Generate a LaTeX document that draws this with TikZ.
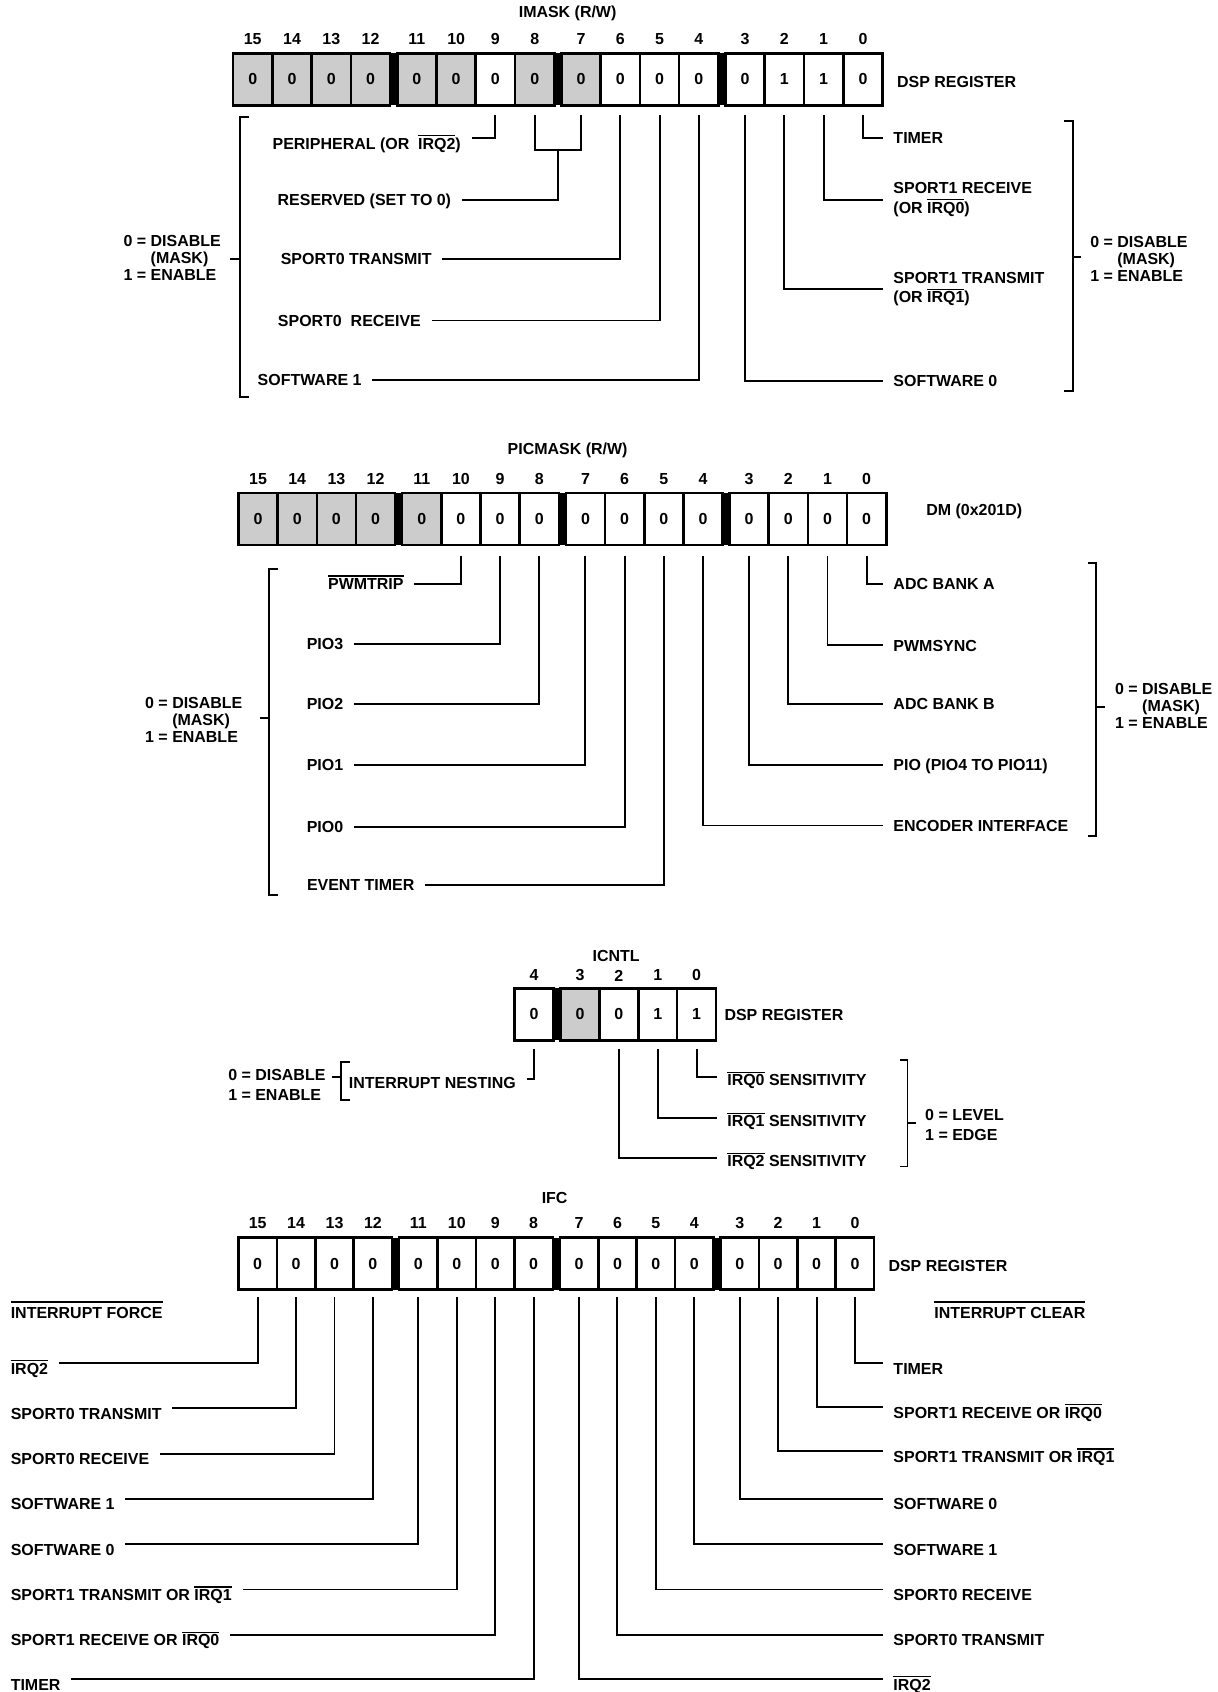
\documentclass[tikz,border=0pt]{standalone}
\usepackage{fontspec}
\setmainfont{Liberation Sans}
\usetikzlibrary{calc}
\definecolor{cellgray}{gray}{0.8}
\newcommand{\ovl}[2][0.8pt]{\leavevmode\setbox0=\hbox{#2}\rlap{\rule[\dimexpr\ht0+#1\relax]{\wd0}{0.6pt}}\box0\relax}

\begin{document}
\begin{tikzpicture}[x=0.5pt, y=-0.5pt,
  every node/.style={font=\bfseries\fontsize{7.4}{9}\selectfont},
  cell/.style={draw, line width=1.2pt, minimum width=#1, minimum height=24pt, inner sep=0pt},
  bitno/.style={inner sep=0pt},
  lbl/.style={inner sep=0pt, outer xsep=5pt, text height=#1, text depth=0pt},
  lbl/.default=5.3pt,
  lbltwo/.style={inner sep=0pt, outer xsep=5pt, align=left},
  note/.style={inner sep=0pt, align=left, font=\bfseries\fontsize{7.4}{8}\selectfont},
  wire/.style={line width=0.9pt},
  brk/.style={line width=0.9pt}]
\useasboundingbox (0,0) rectangle (1128,1568);

\node (imTitle) at (526,12) {IMASK (R/W)};
\foreach \bit/\val/\fc in {15/0/cellgray,14/0/cellgray,13/0/cellgray,12/0/cellgray,11/0/cellgray,10/0/cellgray,9/0/white,8/0/cellgray,7/0/cellgray,6/0/white,5/0/white,4/0/white,3/0/white,2/1/white,1/1/white,0/0/white}{
  \pgfmathsetmacro\cx{216+int((15-\bit)/4)*(4*36.4+6.5)+mod(15-\bit,4)*36.4+18.2}
  \node[cell=18.2pt, fill=\fc] (im\bit) at (\cx,73.5) {\val};
  \node[bitno] (imn\bit) at (\cx,36) {\bit};
  \coordinate (imt\bit) at (\cx,107);
}
\foreach \g in {0,1,2} \fill ({216+\g*(4*36.4+6.5)+4*36.4},49.5) rectangle +(6.5,48);
\node[bitno, anchor=west] (imReg) at (831,76) {DSP REGISTER};

\node[lbl=10.3pt, anchor=east] (imPer) at (437,128) {PERIPHERAL (OR\ \ \ovl{IRQ2})};
\node[lbl, anchor=east] (imRes) at (428,185) {RESERVED (SET TO 0)};
\node[lbl, anchor=east] (imS0T) at (410,240) {SPORT0 TRANSMIT};
\node[lbl, anchor=east] (imS0R) at (400,297) {SPORT0\ \ RECEIVE};
\node[lbl, anchor=east] (imSw1) at (345,352) {SOFTWARE 1};
\node[lbl, anchor=west] (imTim) at (818,128) {TIMER};
\node[lbltwo, anchor=west] (imS1R) at (818,185) {SPORT1 RECEIVE\\(OR \ovl{IRQ0})};
\node[lbltwo, anchor=west] (imS1T) at (818,268) {SPORT1 TRANSMIT\\(OR \ovl{IRQ1})};
\node[lbl, anchor=west] (imSw0) at (818,353) {SOFTWARE 0};

\draw[wire] (imt9) |- (imPer);
\coordinate (imj) at ($(imt8)!.5!(imt7)+(0,32)$);
\draw[wire] (imt8) |- (imj) -| (imt7);
\draw[wire] (imj) |- (imRes);
\foreach \bit/\n in {6/imS0T,5/imS0R,4/imSw1,3/imSw0,2/imS1T,1/imS1R,0/imTim}
  \draw[wire] (imt\bit) |- (\n);

\draw[brk] (231,108) -- (222,108) -- (222,368) -- (231,368);
\draw[brk] (222,240) -- (213,240);
\node[note, anchor=east] (imLnote) at (205,239) {0 = DISABLE\\\phantom{0 = }(MASK)\\1 = ENABLE};
\draw[brk] (986,112) -- (994,112) -- (994,362) -- (986,362);
\draw[brk] (994,238) -- (1002,238);
\node[note, anchor=west] (imRnote) at (1010,240) {0 = DISABLE\\\phantom{0 = }(MASK)\\1 = ENABLE};

\node (pmTitle) at (526,417) {PICMASK (R/W)};
\foreach \bit/\fc in {15/cellgray,14/cellgray,13/cellgray,12/cellgray,11/cellgray,10/white,9/white,8/white,7/white,6/white,5/white,4/white,3/white,2/white,1/white,0/white}{
  \pgfmathsetmacro\cx{221+int((15-\bit)/4)*(4*36.3+6.5)+mod(15-\bit,4)*36.3+18.15}
  \node[cell=18.15pt, fill=\fc] (pm\bit) at (\cx,481) {0};
  \node[bitno] (pmn\bit) at (\cx,444) {\bit};
  \coordinate (pmt\bit) at (\cx,515);
}
\foreach \g in {0,1,2} \fill ({221+\g*(4*36.3+6.5)+4*36.3},457) rectangle +(6.5,48);
\node[bitno, anchor=west] (pmReg) at (858,474) {DM (0x201D)};

\node[lbl, anchor=east] (pmTrip) at (384,541) {\ovl{PWMTRIP}};
\node[lbl, anchor=east] (pmP3) at (328,597) {PIO3};
\node[lbl, anchor=east] (pmP2) at (328,652) {PIO2};
\node[lbl, anchor=east] (pmP1) at (328,709) {PIO1};
\node[lbl, anchor=east] (pmP0) at (328,766) {PIO0};
\node[lbl, anchor=east] (pmEvt) at (394,820) {EVENT TIMER};
\node[lbl, anchor=west] (pmAdcA) at (818,541) {ADC BANK A};
\node[lbl, anchor=west] (pmSync) at (818,598) {PWMSYNC};
\node[lbl, anchor=west] (pmAdcB) at (818,652) {ADC BANK B};
\node[lbl, anchor=west] (pmPio) at (818,709) {PIO (PIO4 TO PIO11)};
\node[lbl, anchor=west] (pmEnc) at (818,765) {ENCODER INTERFACE};
\foreach \bit/\n in {10/pmTrip,9/pmP3,8/pmP2,7/pmP1,6/pmP0,5/pmEvt,0/pmAdcA,1/pmSync,2/pmAdcB,3/pmPio,4/pmEnc}
  \draw[wire] (pmt\bit) |- (\n);

\draw[brk] (258,527) -- (249,527) -- (249,829) -- (258,829);
\draw[brk] (249,665) -- (241,665);
\node[note, anchor=east] (pmLnote) at (225,667) {0 = DISABLE\\\phantom{0 = }(MASK)\\1 = ENABLE};
\draw[brk] (1008,522) -- (1016,522) -- (1016,775) -- (1008,775);
\draw[brk] (1016,655) -- (1024,655);
\node[note, anchor=west] (pmRnote) at (1033,654) {0 = DISABLE\\\phantom{0 = }(MASK)\\1 = ENABLE};

\node (icTitle) at (571,886) {ICNTL};
\foreach \bit/\val/\fc/\cx in {4/0/white/495,3/0/cellgray/537.5,2/0/white/573.5,1/1/white/609.5,0/1/white/645.5}{
  \node[cell=18pt, fill=\fc] (ic\bit) at (\cx,940) {\val};
  \node[bitno] (icn\bit) at (\cx,904) {\bit};
  \coordinate (ict\bit) at (\cx,972);
}
\fill (513,916) rectangle +(6.5,48);
\node[bitno, anchor=west] (icReg) at (671,941) {DSP REGISTER};

\node[lbl=8.3pt, anchor=east] (icNest) at (488,1000) {INTERRUPT NESTING};
\node[lbl=8.3pt, anchor=west] (icS0) at (664,998) {\ovl{IRQ0} SENSITIVITY};
\node[lbl=8.3pt, anchor=west] (icS1) at (664,1036) {\ovl{IRQ1} SENSITIVITY};
\node[lbl=8.3pt, anchor=west] (icS2) at (664,1073) {\ovl{IRQ2} SENSITIVITY};
\foreach \bit/\n in {4/icNest,0/icS0,1/icS1,2/icS2}
  \draw[wire] (ict\bit) |- (\n);

\draw[brk] (324,984) -- (316,984) -- (316,1019) -- (324,1019);
\draw[brk] (316,998) -- (308,998);
\node[note, anchor=east, font=\bfseries\fontsize{7.4}{9.5}\selectfont] (icLnote) at (302,1005.5) {0 = DISABLE\\1 = ENABLE};
\draw[brk] (834,982) -- (841,982) -- (841,1081) -- (834,1081);
\draw[brk] (841,1041) -- (849,1041);
\node[note, anchor=west, font=\bfseries\fontsize{7.4}{9.5}\selectfont] (icRnote) at (857,1042.5) {0 = LEVEL\\1 = EDGE};

\node (ifTitle) at (514,1110) {IFC};
\foreach \bit in {15,14,...,0}{
  \pgfmathsetmacro\cx{221+int((15-\bit)/4)*(4*35.6+6.5)+mod(15-\bit,4)*35.6+17.8}
  \node[cell=17.8pt, fill=white] (if\bit) at (\cx,1171) {0};
  \node[bitno] (ifn\bit) at (\cx,1133) {\bit};
  \coordinate (ift\bit) at (\cx,1202);
}
\foreach \g in {0,1,2} \fill ({221+\g*(4*35.6+6.5)+4*35.6},1147) rectangle +(6.5,48);
\node[bitno, anchor=west] (ifReg) at (823,1173) {DSP REGISTER};

\node[lbl, anchor=west] (ifForce) at (0,1217) {\ovl[2.4pt]{INTERRUPT FORCE}};
\node[lbl, anchor=west] (ifClear) at (856,1217) {\ovl[2.4pt]{INTERRUPT CLEAR}};
\foreach \bit/\y/\txt in {0/1263/TIMER,1/1304/{SPORT1 RECEIVE OR \ovl{IRQ0}},2/1345/{SPORT1 TRANSMIT OR \ovl{IRQ1}},3/1389/SOFTWARE 0,4/1431/SOFTWARE 1,5/1473/SPORT0 RECEIVE,6/1515/SPORT0 TRANSMIT,7/1556/\ovl{IRQ2}}{
  \node[lbl=10.3pt, anchor=west] (ifr\bit) at (818,\y) {\txt};
  \draw[wire] (ift\bit) |- (ifr\bit);
}
\foreach \bit/\y/\txt in {15/1263/\ovl{IRQ2},14/1305/SPORT0 TRANSMIT,13/1347/SPORT0 RECEIVE,12/1389/SOFTWARE 1,11/1431/SOFTWARE 0,10/1473/{SPORT1 TRANSMIT OR \ovl{IRQ1}},9/1515/{SPORT1 RECEIVE OR \ovl{IRQ0}},8/1556/TIMER}{
  \node[lbl=10.3pt, anchor=west] (ifl\bit) at (0,\y) {\txt};
  \draw[wire] (ift\bit) |- (ifl\bit);
}
\end{tikzpicture}
\end{document}
